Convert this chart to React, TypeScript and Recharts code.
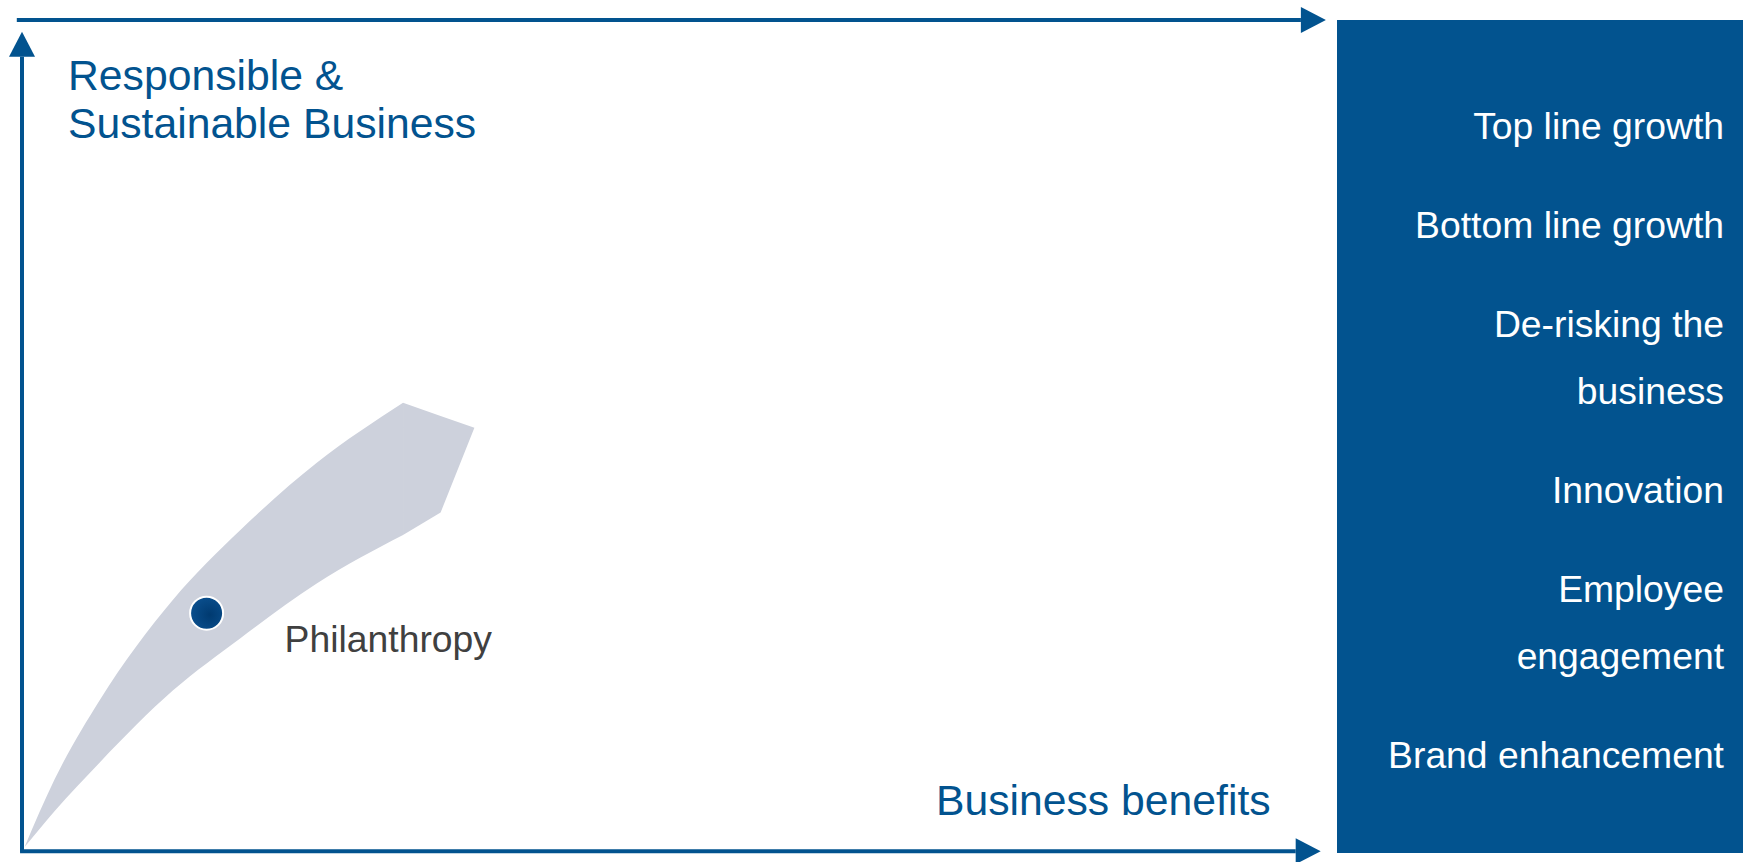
import { ComposedChart, Area, Scatter, XAxis, YAxis, ReferenceLine } from 'recharts';

// band from the origin towards the upper right (x = business benefits, y = responsibility, 0-100)
// curved body up to x 29.31, straight arrow-like tip after it
const BAND_X = [0.2, 2.5, 6.0, 11.6, 16.8, 22.7, 29.31, 32.2, 34.8];
const BODY_LOW = [0.6, 4.9, 10.8, 19.4, 25.7, 32.3, 38.1, null, null];
const BODY_HIGH = [0.6, 8.7, 18.3, 30.3, 38.7, 46.8, 54.0, null, null];
const TIP_LOW = [null, null, null, null, null, null, 38.1, 40.8, 51.0];
const TIP_HIGH = [null, null, null, null, null, null, 54.0, 52.4, 51.0];

const POINTS = [{ name: 'Philanthropy', x: 14.2, y: 28.7 }];

const Y_TITLE = ['Responsible &', 'Sustainable Business'];
const X_TITLE = 'Business benefits';
const BENEFITS = [
  ['Top line growth'],
  ['Bottom line growth'],
  ['De-risking the', 'business'],
  ['Innovation'],
  ['Employee', 'engagement'],
  ['Brand enhancement'],
];

const BLUE = '#02538F';
const BAND = '#CDD1DC';
const FONT = '"Liberation Sans", Arial, Helvetica, sans-serif';

const Arrow = (props: any) => {
  const { x1, y1, x2, y2 } = props;
  const dx = x2 - x1;
  const dy = y2 - y1;
  const len = Math.hypot(dx, dy) || 1;
  const ux = dx / len;
  const uy = dy / len;
  const head = 25;
  const half = 13;
  const bx = x2 - ux * head;
  const by = y2 - uy * head;
  const px = -uy * half;
  const py = ux * half;
  return (
    <g>
      <line x1={x1} y1={y1} x2={bx} y2={by} stroke={BLUE} strokeWidth={4} />
      <polygon points={`${x2},${y2} ${bx + px},${by + py} ${bx - px},${by - py}`} fill={BLUE} />
    </g>
  );
};

const PointMark = (props: any) => {
  const { cx, cy, payload } = props;
  return (
    <g>
      <circle cx={cx} cy={cy} r={16.5} fill="url(#dotFill)" stroke="#fff" strokeWidth={2} />
      <text x={cx + 78} y={cy + 39} fontSize={37.3} fill="#404040" fontFamily={FONT}>
        {payload.name}
      </text>
    </g>
  );
};

const pair = (lo: number | null, hi: number | null) => (lo == null || hi == null ? null : [lo, hi]);

export default function App() {
  const bandData = BAND_X.map((x, i) => ({
    x,
    body: pair(BODY_LOW[i], BODY_HIGH[i]),
    tip: pair(TIP_LOW[i], TIP_HIGH[i]),
  }));

  return (
    <div style={{ position: 'absolute', left: 0, top: 0, width: 1750, height: 862, background: '#fff', fontFamily: FONT }}>
      <ComposedChart width={1337} height={862} data={bandData} margin={{ top: 20, right: 15, bottom: 10, left: 22 }}>
        <defs>
          <radialGradient id="dotFill" cx="0.6" cy="0.55" r="0.6">
            <stop offset="0%" stopColor="#003a70" />
            <stop offset="100%" stopColor="#0a4f8e" />
          </radialGradient>
        </defs>
        <XAxis type="number" dataKey="x" domain={[0, 100]} hide allowDataOverflow />
        <YAxis type="number" domain={[0, 100]} hide allowDataOverflow />
        <Area dataKey="body" type="monotoneX" stroke="none" fill={BAND} fillOpacity={1} isAnimationActive={false} activeDot={false} />
        <Area dataKey="tip" type="linear" stroke="none" fill={BAND} fillOpacity={1} isAnimationActive={false} activeDot={false} />
        <Scatter data={POINTS} dataKey="y" shape={<PointMark />} isAnimationActive={false} />
        <ReferenceLine segment={[{ x: -0.4, y: 100 }, { x: 100.3, y: 100 }]} ifOverflow="visible" shape={Arrow} />
        <ReferenceLine segment={[{ x: 0, y: 0 }, { x: 0, y: 98.6 }]} ifOverflow="visible" shape={Arrow} />
        <ReferenceLine segment={[{ x: -0.15, y: 0.1 }, { x: 99.9, y: 0.1 }]} ifOverflow="visible" shape={Arrow} />
      </ComposedChart>

      <div style={{ position: 'absolute', left: 68, top: 51, fontSize: 42.7, lineHeight: '48px', color: BLUE, whiteSpace: 'nowrap' }}>
        {Y_TITLE.map((t) => (
          <div key={t}>{t}</div>
        ))}
      </div>
      <div style={{ position: 'absolute', left: 936, top: 776, fontSize: 42.7, lineHeight: '48px', color: BLUE, whiteSpace: 'nowrap' }}>
        {X_TITLE}
      </div>

      <div
        style={{
          position: 'absolute',
          left: 1337,
          top: 20,
          width: 406,
          height: 833,
          background: BLUE,
          color: '#fff',
          fontSize: 37.3,
          lineHeight: '67px',
          textAlign: 'right',
          boxSizing: 'border-box',
          paddingTop: 73,
          paddingRight: 19,
          whiteSpace: 'nowrap',
        }}
      >
        {BENEFITS.map((lines) => (
          <div key={lines.join(' ')} style={{ marginBottom: 32 }}>
            {lines.map((l) => (
              <div key={l}>{l}</div>
            ))}
          </div>
        ))}
      </div>
    </div>
  );
}
